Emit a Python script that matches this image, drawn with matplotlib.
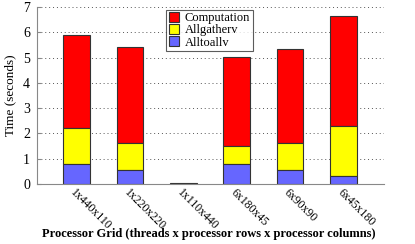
import matplotlib
matplotlib.use("Agg")
import matplotlib.pyplot as plt
import numpy as np

categories = ["1x440x110", "1x220x220", "1x110x440", "6x180x45", "6x90x90", "6x45x180"]
alltoallv = [0.81, 0.57, 0.0, 0.81, 0.57, 0.31]
allgatherv = [1.39, 1.07, 0.0, 0.69, 1.06, 1.99]
computation = [3.71, 3.78, 0.02, 3.54, 3.72, 4.33]
yticks = [0, 1, 2, 3, 4, 5, 6, 7]

plt.rcParams['font.family'] = ['Liberation Serif', 'DejaVu Serif']

fig = plt.figure(figsize=(4.15, 2.44), dpi=100)
ax = fig.add_axes([37/415, 1-184/244, (384-37)/415, (184-7)/244])

x = np.arange(len(categories))
w = 0.5
b1 = np.array(alltoallv)
b2 = b1 + np.array(allgatherv)
ec = '#333333'
ax.bar(x, computation, w, bottom=b2, color='#ff0000', edgecolor=ec, linewidth=0.8, label='Computation')
ax.bar(x, allgatherv, w, bottom=b1, color='#ffff00', edgecolor=ec, linewidth=0.8, label='Allgatherv')
ax.bar(x, alltoallv, w, color='#6666ff', edgecolor=ec, linewidth=0.8, label='Alltoallv')

ax.set_xlim(-0.74, 5.76)
ax.set_ylim(0, 7)
ax.set_yticks(yticks)
ax.yaxis.grid(True, linestyle=(0, (1, 3)), color='#555555', linewidth=0.7)
ax.set_axisbelow(True)
ax.spines['top'].set_visible(False)
ax.spines['right'].set_visible(False)
ax.spines['left'].set_color('#888888')
ax.spines['bottom'].set_color('#888888')
ax.tick_params(axis='y', direction='in', length=3, labelsize=10, color='#888888', pad=5)
ax.tick_params(axis='x', length=0, labelsize=8.5, pad=2)
ax.set_xticks(x)
ax.set_xticklabels(categories, rotation=-45, ha='left', va='top', rotation_mode='anchor')
ax.set_ylabel('Time (seconds)', fontsize=9.5, labelpad=5)
fig.text((47 + 370) / 2 / 415, 1 - 234 / 244,
         'Processor Grid (threads x processor rows x processor columns)',
         fontsize=9, fontweight='bold', ha='center', va='center')

leg = ax.legend(loc='upper center', bbox_to_anchor=(0.497, 0.985), fontsize=9, frameon=True, fancybox=False,
                edgecolor='#333333', handlelength=0.8, handleheight=0.8, handletextpad=0.5,
                borderpad=0.2, labelspacing=0.0, borderaxespad=0)
leg.get_frame().set_linewidth(0.8)

fig.savefig('out.png', dpi=100)
